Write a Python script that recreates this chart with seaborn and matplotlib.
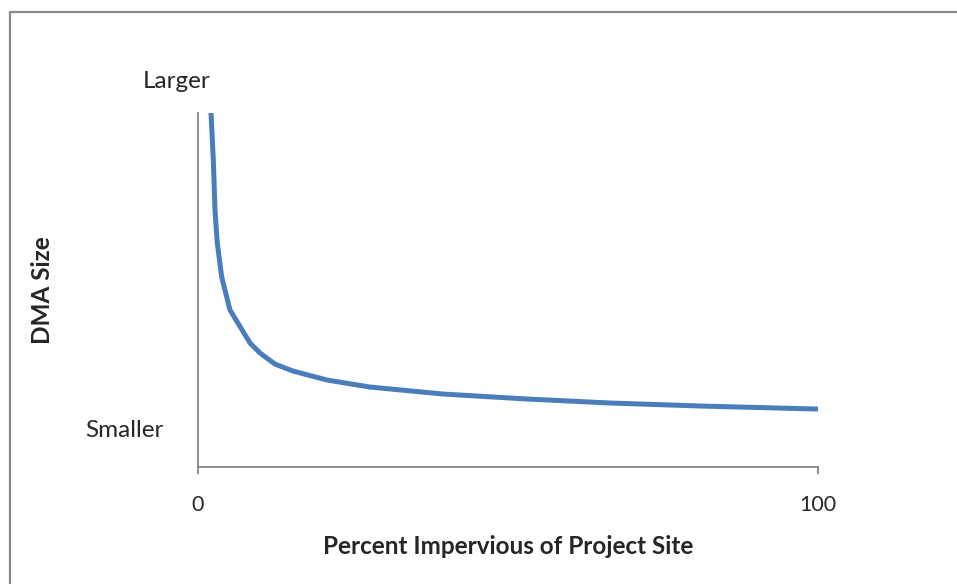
"""DMA size vs percent impervious - conceptual curve."""
import matplotlib
matplotlib.use("Agg")
import matplotlib.pyplot as plt
from matplotlib.lines import Line2D
import pandas as pd
import seaborn as sns

# values (x in percent, y in arbitrary size units)
pct_impervious = [2.1, 2.47, 2.74, 3.11, 3.82, 5.16, 8.39, 10.0, 12.4, 15.3, 20.8,
                  27.7, 39.5, 53.1, 66.5, 81.0, 99.8]
dma_size = [354, 307, 257, 224, 190, 157, 124, 114, 103, 96, 87,
            80, 73, 68, 64, 61, 58]
x_ticks = [0, 100]
size_labels = ["Smaller", "Larger"]

sns.set_style("white")
plt.rcParams["font.family"] = ["Lato", "DejaVu Sans"]

df = pd.DataFrame({"pct": pct_impervious, "size": dma_size})

fig = plt.figure(figsize=(9.57, 5.84), dpi=100)
ax = fig.add_axes([0.2069, 0.2003, 0.6479, 0.6062])

sns.lineplot(data=df, x="pct", y="size", ax=ax, color="#4A7EBB",
             linewidth=3.6, solid_capstyle="round", solid_joinstyle="round")

ax.set_xlim(0, 100)
ax.set_ylim(0, 354)
ax.set_xticks(x_ticks)
ax.set_xticklabels([str(t) for t in x_ticks], fontsize=15.5)
ax.set_yticks([])
ax.tick_params(axis="x", direction="out", length=5, width=1.3, color="#868686", pad=15)
ax.xaxis.set_ticks_position("bottom")

for side in ["top", "right"]:
    ax.spines[side].set_visible(False)
for side in ["left", "bottom"]:
    ax.spines[side].set_color("#868686")
    ax.spines[side].set_linewidth(1.3)

ax.set_xlabel("Percent Impervious of Project Site", fontsize=17.5, fontweight="bold")
ax.xaxis.set_label_coords(0.5, -0.193)
ax.set_ylabel("DMA Size", fontsize=17.5, fontweight="bold")
ax.yaxis.set_label_coords(-0.233, 0.5)

# "Smaller" / "Larger" labels beside the y axis
ax.text(-0.118, 0.102, size_labels[0], transform=ax.transAxes, fontsize=17.5,
        ha="center", va="center")
ax.text(-0.034, 1.088, size_labels[1], transform=ax.transAxes, fontsize=17.5,
        ha="center", va="center")

# chart-area frame (left & top edges visible)
fig.add_artist(Line2D([0.0105, 0.0105], [0.0, 0.979], transform=fig.transFigure,
                      color="#8a8a8a", linewidth=1.6))
fig.add_artist(Line2D([0.0105, 1.0], [0.979, 0.979], transform=fig.transFigure,
                      color="#8a8a8a", linewidth=1.6))

fig.savefig("out.png", dpi=100)
plt.close(fig)
